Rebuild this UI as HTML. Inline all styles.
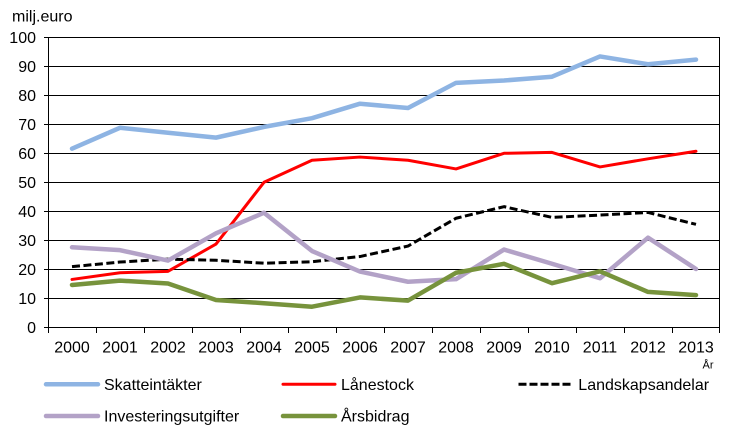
<!DOCTYPE html>
<html>
<head>
<meta charset="utf-8">
<style>
html,body{margin:0;padding:0;background:#fff;}
svg{display:block;}
text{font-family:"Liberation Sans",Arial,sans-serif;fill:#000;}
</style>
</head>
<body>
<svg width="741" height="439" viewBox="0 0 741 439" xmlns="http://www.w3.org/2000/svg">
<rect x="0" y="0" width="741" height="439" fill="#fff"/>
<text x="12" y="21.7" font-size="16">milj.euro</text>
<g stroke="#000" stroke-width="1" fill="none">
<line x1="44" y1="37.5" x2="720" y2="37.5"/>
<line x1="44" y1="66.5" x2="720" y2="66.5"/>
<line x1="44" y1="95.5" x2="720" y2="95.5"/>
<line x1="44" y1="124.5" x2="720" y2="124.5"/>
<line x1="44" y1="153.5" x2="720" y2="153.5"/>
<line x1="44" y1="182.5" x2="720" y2="182.5"/>
<line x1="44" y1="211.5" x2="720" y2="211.5"/>
<line x1="44" y1="240.5" x2="720" y2="240.5"/>
<line x1="44" y1="269.5" x2="720" y2="269.5"/>
<line x1="44" y1="298.5" x2="720" y2="298.5"/>
<line x1="44" y1="327.5" x2="720" y2="327.5"/>
<line x1="48.5" y1="37" x2="48.5" y2="328"/>
<line x1="719.5" y1="37" x2="719.5" y2="333"/>
<line x1="48.5" y1="327" x2="48.5" y2="333"/>
<line x1="96.5" y1="327" x2="96.5" y2="333"/>
<line x1="144.5" y1="327" x2="144.5" y2="333"/>
<line x1="192.5" y1="327" x2="192.5" y2="333"/>
<line x1="240.5" y1="327" x2="240.5" y2="333"/>
<line x1="288.5" y1="327" x2="288.5" y2="333"/>
<line x1="336.5" y1="327" x2="336.5" y2="333"/>
<line x1="384.5" y1="327" x2="384.5" y2="333"/>
<line x1="432.5" y1="327" x2="432.5" y2="333"/>
<line x1="480.5" y1="327" x2="480.5" y2="333"/>
<line x1="528.5" y1="327" x2="528.5" y2="333"/>
<line x1="576.5" y1="327" x2="576.5" y2="333"/>
<line x1="624.5" y1="327" x2="624.5" y2="333"/>
<line x1="672.5" y1="327" x2="672.5" y2="333"/>
</g>
<g font-size="16" text-anchor="end">
<text x="36" y="42.8">100</text>
<text x="36" y="71.8">90</text>
<text x="36" y="100.8">80</text>
<text x="36" y="129.8">70</text>
<text x="36" y="158.8">60</text>
<text x="36" y="187.8">50</text>
<text x="36" y="216.8">40</text>
<text x="36" y="245.8">30</text>
<text x="36" y="274.8">20</text>
<text x="36" y="303.8">10</text>
<text x="36" y="332.8">0</text>
</g>
<g font-size="16" text-anchor="middle">
<text x="72" y="352.7">2000</text>
<text x="120" y="352.7">2001</text>
<text x="168" y="352.7">2002</text>
<text x="216" y="352.7">2003</text>
<text x="264" y="352.7">2004</text>
<text x="312" y="352.7">2005</text>
<text x="360" y="352.7">2006</text>
<text x="408" y="352.7">2007</text>
<text x="456" y="352.7">2008</text>
<text x="504" y="352.7">2009</text>
<text x="552" y="352.7">2010</text>
<text x="600" y="352.7">2011</text>
<text x="648" y="352.7">2012</text>
<text x="696" y="352.7">2013</text>
</g>
<text x="708" y="368.7" font-size="11" text-anchor="middle">År</text>

<g fill="none" stroke-linejoin="round" stroke-linecap="round">
<polyline stroke="#8EB4E3" stroke-width="4.5" points="72,148.65 120,127.77 168,132.7 216,137.63 264,126.9 312,118.2 360,103.7 408,108.05 456,82.82 504,80.5 552,76.73 600,56.43 648,64.26 696,59.62"/>
<polyline stroke="#FF0000" stroke-width="3" points="72,279.44 120,272.77 168,271.32 216,244.06 264,182.29 312,160.25 360,157.06 408,160.25 456,168.95 504,153.29 552,152.42 600,166.92 648,158.8 696,151.26"/>
<polyline stroke="#000" stroke-width="3" stroke-linecap="butt" stroke-dasharray="8 3.5" points="72,266.68 120,262.04 168,259.14 216,260.3 264,263.2 312,261.75 360,256.53 408,246.09 456,218.25 504,206.65 552,217.38 600,215.06 648,212.45 696,224.34"/>
<polyline stroke="#B3A2C7" stroke-width="4.5" points="72,247.25 120,250.15 168,260.59 216,233.33 264,212.74 312,251.02 360,271.61 408,281.76 456,279.15 504,249.57 552,263.78 600,278.28 648,237.68 696,269"/>
<polyline stroke="#77933C" stroke-width="4.5" points="72,284.95 120,280.6 168,283.5 216,300.03 264,303.22 312,306.7 360,297.42 408,300.61 456,272.77 504,263.78 552,283.21 600,271.32 648,291.91 696,295.1"/>
</g>

<g fill="none" stroke-linecap="round">
<line x1="46" y1="384.3" x2="98" y2="384.3" stroke="#8EB4E3" stroke-width="4.5"/>
<line x1="283" y1="384.3" x2="335" y2="384.3" stroke="#FF0000" stroke-width="3"/>
<line x1="518.5" y1="384.3" x2="573.5" y2="384.3" stroke="#000" stroke-width="3" stroke-linecap="butt" stroke-dasharray="8 3"/>
<line x1="46" y1="416" x2="98" y2="416" stroke="#B3A2C7" stroke-width="4.5"/>
<line x1="283" y1="416" x2="335" y2="416" stroke="#77933C" stroke-width="4.5"/>
</g>
<g font-size="16">
<text x="104" y="390">Skatteintäkter</text>
<text x="341" y="390">Lånestock</text>
<text x="578.3" y="390">Landskapsandelar</text>
<text x="104" y="421.7">Investeringsutgifter</text>
<text x="341" y="421.7">Årsbidrag</text>
</g>
</svg>
</body>
</html>
